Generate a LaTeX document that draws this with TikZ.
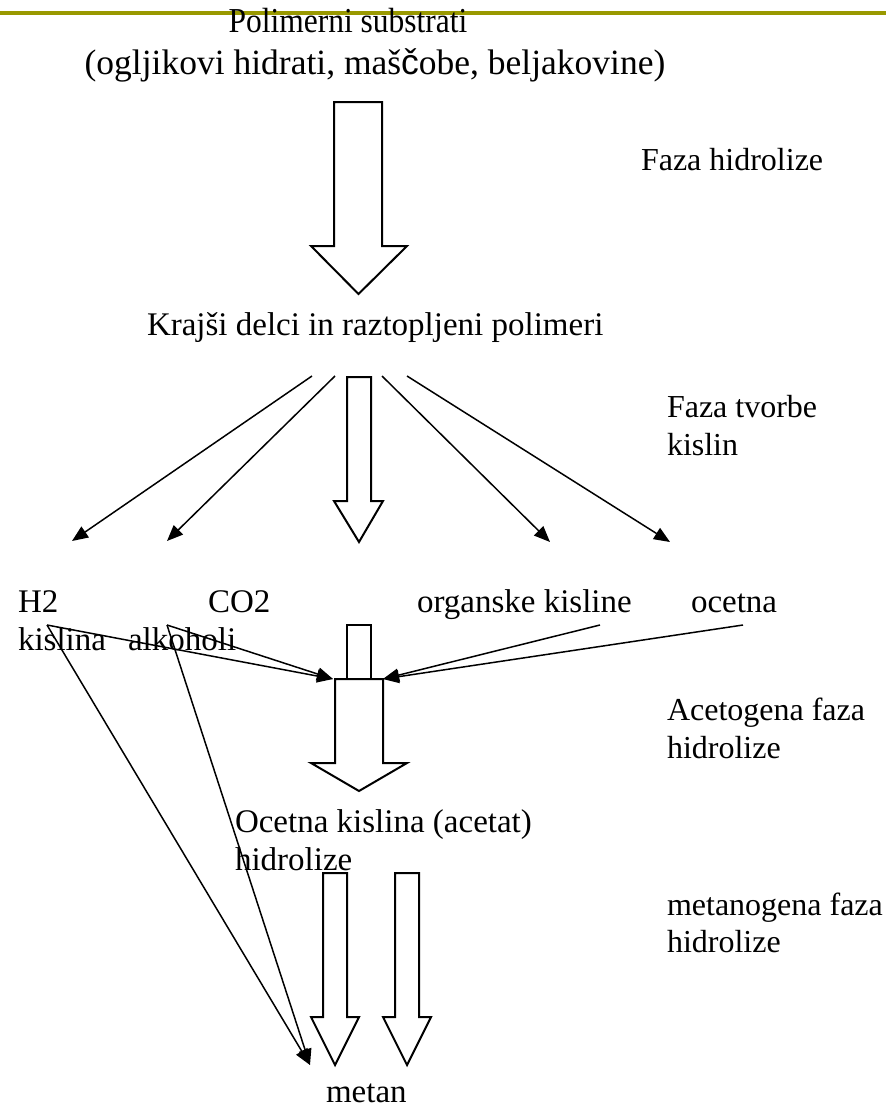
\documentclass[tikz,border=0pt]{standalone}
\usepackage{fontspec}
\setmainfont{Liberation Serif}
\newfontfamily\sansc{Liberation Sans}
\usetikzlibrary{arrows.meta}
\definecolor{olivebar}{RGB}{153,153,0}
\begin{document}
\begin{tikzpicture}[x=1pt,y=-1pt,
  txt/.style={inner sep=0pt, outer sep=0pt, font=\fontsize{33}{39}\selectfont, anchor=base west},
  ctxt/.style={txt, anchor=base},
  phase/.style={txt, font=\fontsize{32}{38}\selectfont},
  blockarrow/.style={draw=black, line width=2pt, fill=white, line join=miter},
  thinarrow/.style={draw=black, line width=1.5pt, -{Triangle[length=16pt,width=13pt]}}]
\useasboundingbox (0,0) rectangle (886,1111);
\fill[white] (0,0) rectangle (886,1111);
\draw[olivebar, line width=4pt] (0,13) -- (886,13);

% texts
\node[ctxt, font=\fontsize{35}{42}\selectfont, xscale=0.9] (pol1) at (348,32) {Polimerni substrati};
\node[ctxt, font=\fontsize{35.5}{42}\selectfont] (pol2) at (375,74) {(ogljikovi hidrati, maš{\sansc č}obe, beljakovine)};
\node[phase] (fh) at (641,170) {Faza hidrolize};
\node[txt] (kr) at (147,335) {Krajši delci in raztopljeni polimeri};
\node[phase] (ft1) at (667,417) {Faza tvorbe};
\node[phase] (ft2) at (667,455) {kislin};
\node[txt] (h2) at (18,612) {H2};
\node[txt] (co2) at (208,612) {CO2};
\node[txt] (org) at (417,612) {organske kisline};
\node[txt] (oc) at (691,612) {ocetna};
\node[txt] (kis) at (18,650) {kislina};
\node[txt] (alk) at (128,650) {alkoholi};
\node[phase] (ac1) at (667,720) {Acetogena faza};
\node[phase] (ac2) at (667,758) {hidrolize};
\node[txt] (ock1) at (235,832) {Ocetna kislina (acetat)};
\node[txt] (ock2) at (235,870) {hidrolize};
\node[phase] (me1) at (667,915) {metanogena faza};
\node[phase] (me2) at (667,952) {hidrolize};
\node[txt] (met) at (326,1102) {metan};

% block arrows
\draw[blockarrow] (334,102) -- (382,102) -- (382,246) -- (407,246) -- (358.5,294) -- (311,246) -- (334,246) -- cycle;
\draw[blockarrow] (347,377) -- (371,377) -- (371,501) -- (383,501) -- (359,542) -- (334,501) -- (347,501) -- cycle;
\draw[blockarrow] (347,625) rectangle (371,679);
\draw[blockarrow] (335,679) -- (383,679) -- (383,763) -- (407,763) -- (359,791) -- (311,763) -- (335,763) -- cycle;
\draw[blockarrow] (323,873) -- (347,873) -- (347,1017) -- (359,1017) -- (335,1065) -- (311,1017) -- (323,1017) -- cycle;
\draw[blockarrow] (395,873) -- (419,873) -- (419,1017) -- (431,1017) -- (407,1065) -- (383,1017) -- (395,1017) -- cycle;

% connector end points
\coordinate (s1) at (312,376);
\coordinate (s2) at (335,376);
\coordinate (s3) at (382,376);
\coordinate (s4) at (407,376);
\coordinate (e1) at (72,541);
\coordinate (e2) at (167,541);
\coordinate (e3) at (550,542);
\coordinate (e4) at (670,542);
\coordinate (va) at (47,625);
\coordinate (vb) at (167,625);
\coordinate (vc) at (600,625);
\coordinate (vd) at (743,625);
\coordinate (tL) at (333,679);
\coordinate (tR) at (383,679);
\coordinate (tM) at (310,1065);

% thin arrows
\draw[thinarrow] (s1) -- (e1);
\draw[thinarrow] (s2) -- (e2);
\draw[thinarrow] (s3) -- (e3);
\draw[thinarrow] (s4) -- (e4);
\draw[thinarrow] (va) -- (tL);
\draw[thinarrow] (vb) -- (tL);
\draw[thinarrow] (vc) -- (tR);
\draw[thinarrow] (vd) -- (tR);
\draw[thinarrow] (va) -- (tM);
\draw[thinarrow] (vb) -- (tM);
\end{tikzpicture}
\end{document}
